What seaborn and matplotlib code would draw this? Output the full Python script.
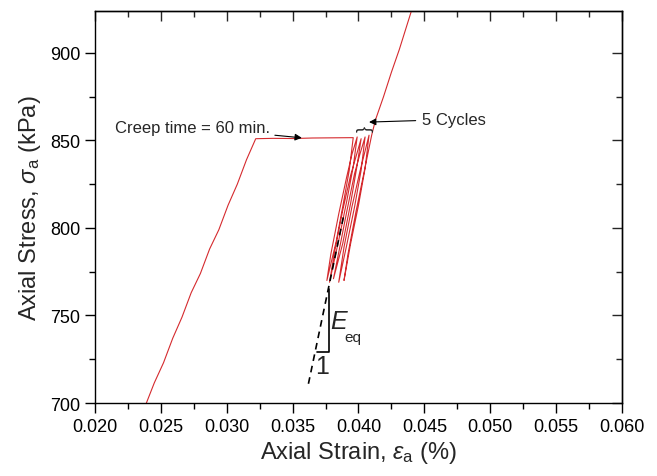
import numpy as np
import pandas as pd
import matplotlib
matplotlib.use("Agg")
import matplotlib.pyplot as plt
from matplotlib.ticker import MultipleLocator
import seaborn as sns

# ---- data (strain %, stress kPa) ----
load_strain = [0.0239, 0.0245, 0.0252, 0.0259, 0.0266, 0.0273, 0.0280,
               0.0287, 0.0294, 0.0301, 0.0308, 0.0315, 0.0322]
load_stress = [700, 711.5, 723, 737, 749, 763, 774, 788, 799, 813, 825, 839, 851]

creep_strain = [0.0322, 0.0335, 0.0350, 0.0365, 0.0380, 0.0396]
creep_stress = [851, 851.2, 851.1, 851.4, 851.5, 851.6]

cycle_strain = [0.0396, 0.0393, 0.0388, 0.0383, 0.0376,
                0.0379, 0.0385, 0.0391, 0.0395, 0.0399,
                0.0396, 0.0391, 0.0385, 0.0378,
                0.0382, 0.0388, 0.0394, 0.0402,
                0.0399, 0.0394, 0.0388, 0.0381,
                0.0385, 0.0391, 0.0397, 0.0401, 0.0405,
                0.0402, 0.0397, 0.0391, 0.0385,
                0.0389, 0.0395, 0.0401, 0.0408,
                0.0405, 0.0400, 0.0394, 0.0389]
cycle_stress = [851.6, 833, 812, 792, 770,
                785, 808, 829, 842, 852,
                835, 815, 793, 769,
                787, 810, 830, 851,
                836, 814, 791, 771,
                786, 809, 831, 842, 852,
                833, 812, 790, 769,
                789, 812, 832, 853,
                834, 813, 791, 770]

reload_strain = [0.0389, 0.0392, 0.0398, 0.0404, 0.0410, 0.0413, 0.0419,
                 0.0425, 0.0431, 0.0441]
reload_stress = [770, 785, 809, 831, 853, 862, 875, 889, 902, 926]

eq_line_strain = [0.0362, 0.0389]
eq_line_stress = [711, 808]

x_ticks = [0.020, 0.025, 0.030, 0.035, 0.040, 0.045, 0.050, 0.055, 0.060]
y_ticks = [700, 750, 800, 850, 900]

RED = "#d52a2e"

sns.set_theme(style="ticks")
plt.rcParams["font.family"] = ["Liberation Sans", "DejaVu Sans"]
plt.rcParams["mathtext.fontset"] = "custom"
plt.rcParams["mathtext.rm"] = "Liberation Sans"
plt.rcParams["mathtext.it"] = "Liberation Sans:italic"
plt.rcParams["mathtext.bf"] = "Liberation Sans:bold"

fig = plt.figure(figsize=(6.57, 4.77), dpi=100)
ax = fig.add_axes([0.1446, 0.153, 0.9467 - 0.1446, 0.975 - 0.153])

path = pd.DataFrame({
    "strain": load_strain + creep_strain[1:] + cycle_strain[1:] + reload_strain[1:],
    "stress": load_stress + creep_stress[1:] + cycle_stress[1:] + reload_stress[1:],
})
sns.lineplot(data=path, x="strain", y="stress", sort=False, estimator=None,
             color=RED, linewidth=0.8, ax=ax)

eq = pd.DataFrame({"strain": eq_line_strain, "stress": eq_line_stress})
ax.plot(eq["strain"], eq["stress"], color="black", linewidth=1.2,
        dashes=(4, 3))

# slope triangle
ax.plot([0.03682, 0.03773, 0.03773], [729, 729, 765], color="black", linewidth=1.2)
ax.text(0.03785, 747, r"$E$", fontsize=18, ha="left", va="center")
ax.text(0.03893, 738, "eq", fontsize=11, ha="left", va="center")
ax.text(0.03720, 721, "1", fontsize=18, ha="center", va="center")

# annotations
ax.annotate("Creep time = 60 min.", xy=(0.0357, 851.5), xytext=(0.0333, 857.5),
            fontsize=12, ha="right", va="center",
            arrowprops=dict(arrowstyle="-|>", color="black", lw=0.8,
                            mutation_scale=10, shrinkA=1, shrinkB=0))
ax.annotate("5 Cycles", xy=(0.0408, 860.5), xytext=(0.0448, 862),
            fontsize=12, ha="left", va="center",
            arrowprops=dict(arrowstyle="-|>", color="black", lw=0.8,
                            mutation_scale=10, shrinkA=2, shrinkB=0))
ax.text(0.04035, 857, "{", rotation=-90, fontsize=13, ha="center", va="center")

ax.set_xlim(0.020, 0.060)
ax.set_ylim(700, 924)
ax.set_xticks(x_ticks)
ax.set_xticklabels([f"{v:.3f}" for v in x_ticks])
ax.set_yticks(y_ticks)
ax.xaxis.set_minor_locator(MultipleLocator(0.0025))
ax.yaxis.set_minor_locator(MultipleLocator(25))

ax.set_xlabel(r"Axial Strain, $\varepsilon_{\mathrm{a}}$ (%)", fontsize=17, labelpad=3)
ax.set_ylabel(r"Axial Stress, $\sigma_{\mathrm{a}}$ (kPa)", fontsize=17, labelpad=5)

for s in ax.spines.values():
    s.set_visible(True)
    s.set_linewidth(1.0)
    s.set_color("black")

ax.tick_params(which="major", direction="out", length=7.5, width=1.0,
               labelsize=13, colors="black", pad=3)
ax.tick_params(which="minor", direction="out", length=4, width=1.0, colors="black")

secx = ax.secondary_xaxis("top")
secx.set_xticks(x_ticks)
secx.xaxis.set_minor_locator(MultipleLocator(0.0025))
secx.tick_params(which="major", direction="in", length=7.5, width=1.0, labeltop=False)
secx.tick_params(which="minor", direction="in", length=4, width=1.0)
secx.spines["top"].set_linewidth(1.0)

secy = ax.secondary_yaxis("right")
secy.set_yticks(y_ticks)
secy.yaxis.set_minor_locator(MultipleLocator(25))
secy.tick_params(which="major", direction="in", length=7.5, width=1.0, labelright=False)
secy.tick_params(which="minor", direction="in", length=4, width=1.0)
secy.spines["right"].set_linewidth(1.0)

ax.grid(False)
fig.savefig("out.png", dpi=100, facecolor="white")
